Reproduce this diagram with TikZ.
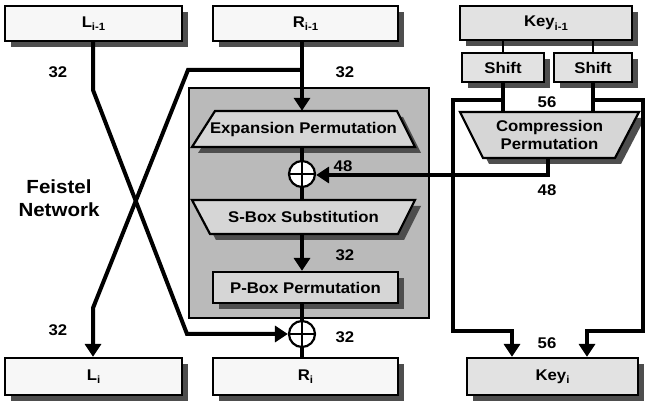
\documentclass[tikz,border=0pt]{standalone}
\usepackage{fontspec}
\setmainfont{Liberation Sans}[FakeStretch=1.08]
\usetikzlibrary{arrows.meta}
\definecolor{boxw}{HTML}{F7F7F7}
\definecolor{boxk}{HTML}{E2E2E2}
\definecolor{fgray}{HTML}{BABABA}
\definecolor{innerg}{HTML}{D6D6D6}
\definecolor{shadowgray}{HTML}{4E4E4E}
\newcommand\sbs[1]{\raisebox{-3.5pt}{\fontsize{10.5}{10.5}\selectfont #1}}
\tikzset{
  lbl/.style={font=\fontsize{15.5}{18}\selectfont\bfseries, inner sep=0pt},
  blk/.style={draw, line width=2.2pt, inner sep=0pt, lbl},
  txt/.style={lbl, minimum height=0pt},
  shadowfill/.style={fill=shadowgray, draw=none},
  conn/.style={line width=4pt},
  thinconn/.style={line width=2.5pt},
  arr/.style={conn, -{Triangle[length=13pt,width=16pt]}},
  shapeline/.style={draw, line width=2.2pt, fill=innerg},
  xor/.style={circle, draw, line width=2.2pt, fill=white, minimum size=26pt, inner sep=0pt,
    path picture={\draw[line width=2.2pt] (path picture bounding box.north) -- (path picture bounding box.south)
      (path picture bounding box.west) -- (path picture bounding box.east);}},
}
\begin{document}
\begin{tikzpicture}[x=1pt,y=-1pt]
\useasboundingbox (0,0) rectangle (654,406);
\fill[white] (0,0) rectangle (654,406);
% F-function gray box
\node[draw, line width=2.2pt, fill=fgray, minimum width=240pt, minimum height=230pt, inner sep=0pt] (fbox) at (309,203) {};

% drop shadows
\path[shadowfill] (11,12) rectangle (188,47);
\path[shadowfill] (219,12) rectangle (404,47);
\path[shadowfill] (466,12) rectangle (638,46);
\path[shadowfill] (468,59) rectangle (550,88);
\path[shadowfill] (560,59) rectangle (638,88);
\path[shadowfill] (11,364) rectangle (188,401);
\path[shadowfill] (219,364) rectangle (404,401);
\path[shadowfill] (473,364) rectangle (644,401);
\path[shadowfill] (219,278) rectangle (404,309);
\path[shadowfill] (221,117) -- (403,117) -- (421,153) -- (198,153) -- cycle;
\path[shadowfill] (198,206) -- (421,206) -- (404,240) -- (216,240) -- cycle;
\path[shadowfill] (466,118) -- (645,118) -- (621,164) -- (489,164) -- cycle;

% top and bottom register boxes
\node[blk, fill=boxw, minimum width=177pt, minimum height=35pt] (Lprev) at (93.5,23.5) {L\sbs{i-1}};
\node[blk, fill=boxw, minimum width=185pt, minimum height=35pt] (Rprev) at (305.5,23.5) {R\sbs{i-1}};
\node[blk, fill=boxk, minimum width=172pt, minimum height=34pt] (Kprev) at (546,23) {Key\sbs{i-1}};
\node[blk, fill=boxk, minimum width=82pt, minimum height=29pt] (shiftL) at (503,67.5) {Shift};
\node[blk, fill=boxk, minimum width=78pt, minimum height=29pt] (shiftR) at (593,67.5) {Shift};

\node[blk, fill=boxw, minimum width=177pt, minimum height=37pt] (Li) at (93.5,376.5) {L\sbs{i}};
\node[blk, fill=boxw, minimum width=185pt, minimum height=37pt] (Ri) at (305.5,376.5) {R\sbs{i}};
\node[blk, fill=boxk, minimum width=171pt, minimum height=37pt] (Ki) at (552.5,376.5) {Key\sbs{i}};

% Expansion permutation
\path[shapeline] (215,111) -- (397,111) -- (415,147) -- (192,147) -- cycle;
\node[txt, minimum width=223pt, minimum height=36pt] (exp) at (303.5,129) {Expansion Permutation};

% S-Box substitution
\path[shapeline] (192,200) -- (415,200) -- (398,234) -- (210,234) -- cycle;
\node[txt, minimum width=223pt, minimum height=34pt] (sbox) at (303.5,217) {S-Box Substitution};

% P-Box permutation
\node[blk, fill=innerg, minimum width=185pt, minimum height=31pt] (pbox) at (305.5,287.5) {P-Box Permutation};

% Compression permutation
\path[shapeline] (460,112) -- (639,112) -- (615,158) -- (483,158) -- cycle;
\node[txt, minimum width=179pt, minimum height=46pt, align=center] (comp) at (549.5,135) {Compression\\Permutation};

% XORs
\node[xor] (xorA) at (302,174) {};
\node[xor] (xorB) at (302,334) {};

% coordinates for connector bends
\coordinate (rb) at (302,70);
\coordinate (rb1) at (188,70);
\coordinate (rb2) at (93,308);
\coordinate (lb1) at (93,90);
\coordinate (lb2) at (187,334);
\coordinate (kl) at (503,100);
\coordinate (kl1) at (453,100);
\coordinate (kl2) at (453,331);
\coordinate (kl3) at (512,331);
\coordinate (kr) at (593,100);
\coordinate (kr1) at (643,100);
\coordinate (kr2) at (643,331);
\coordinate (kr3) at (587,331);
\coordinate (cb) at (548,175);

% Feistel connectors
\draw[arr] (Rprev.south -| xorA) -- (exp.north -| xorA);
\draw[arr] (rb) -- (rb1) -- (rb2) -- (Li.north -| rb2);
\draw[arr] (Lprev.south -| lb1) -- (lb1) -- (lb2) -- (xorB.west);
\draw[conn] (exp.south -| xorA) -- (xorA.north);
\draw[conn] (xorA.south) -- (sbox.north -| xorA);
\draw[arr] (sbox.south -| xorA) -- (pbox.north -| xorA);
\draw[conn] (pbox.south -| xorB) -- (xorB.north);
\draw[conn] (xorB.south) -- (Ri.north -| xorB);

% key schedule connectors
\draw[thinconn] (Kprev.south -| shiftL) -- (shiftL.north);
\draw[thinconn] (Kprev.south -| shiftR) -- (shiftR.north);
\draw[conn] (shiftL.south) -- (comp.north -| shiftL);
\draw[conn] (shiftR.south) -- (comp.north -| shiftR);
\draw[arr] (kl) -- (kl1) -- (kl2) -- (kl3) -- (Ki.north -| kl3);
\draw[arr] (kr) -- (kr1) -- (kr2) -- (kr3) -- (Ki.north -| kr3);
\draw[arr] (comp.south -| cb) -- (cb) -- (xorA.east |- cb);

% bit-width labels
\node[lbl] (n1) at (58,72) {32};
\node[lbl] (n2) at (345,72) {32};
\node[lbl] (n3) at (58,330) {32};
\node[lbl] (n4) at (345,337) {32};
\node[lbl] (n5) at (345,255) {32};
\node[lbl] (n6) at (343,166) {48};
\node[lbl] (n7) at (547,190) {48};
\node[lbl] (n8) at (547,102) {56};
\node[lbl] (n9) at (547,343) {56};

\node[font=\fontsize{19}{23}\selectfont\bfseries, align=center, inner sep=0pt] (feistel) at (59,198) {Feistel\\Network};
\end{tikzpicture}
\end{document}
